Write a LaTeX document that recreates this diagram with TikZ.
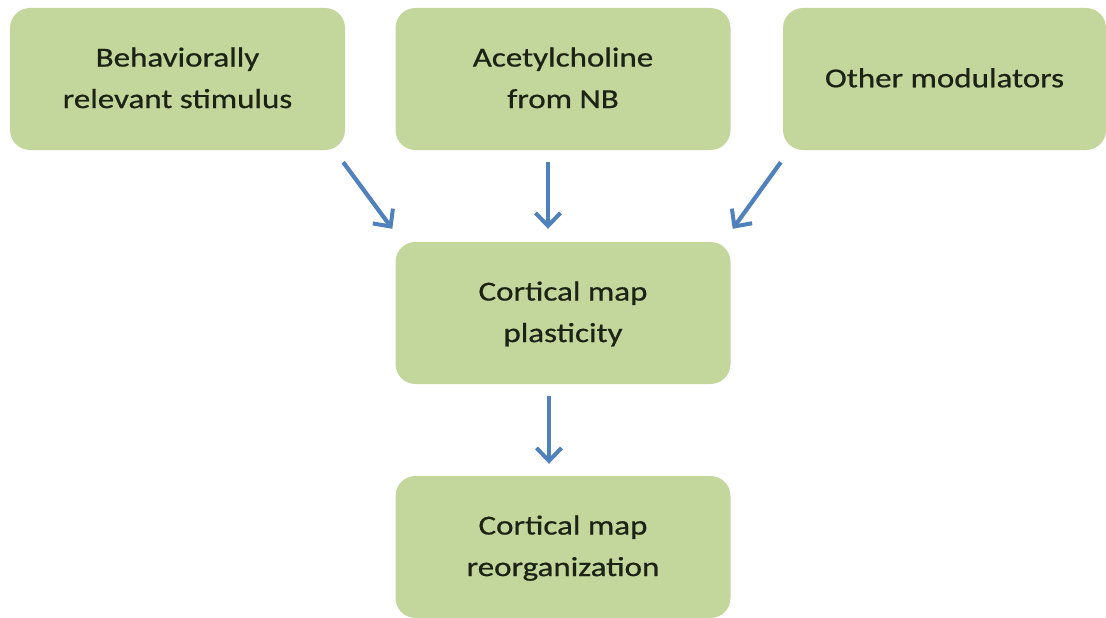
\documentclass[tikz,border=0pt]{standalone}
\usepackage{fontspec}
\setmainfont{Carlito}[FakeBold=0.6]
\usetikzlibrary{arrows.meta,calc}
\definecolor{boxgreen}{RGB}{195,214,155}
\definecolor{arrowblue}{RGB}{79,129,189}
\definecolor{txt}{RGB}{28,34,20}
\newcommand{\boxtext}[1]{\scalebox{1.2}[1]{\begin{tabular}{@{}c@{}}#1\end{tabular}}}
\tikzset{
  flowbox/.style={rectangle, rounded corners=20pt, fill=boxgreen, draw=none,
    minimum width=335pt, minimum height=142pt, inner sep=0pt,
    text=txt, font=\fontsize{27.5}{41.5}\selectfont},
  flowarrow/.style={draw=arrowblue, line width=4.2pt,
    -{Straight Barb[length=13pt,width=25pt,line width=4pt]}}
}
\begin{document}
\begin{tikzpicture}[x=1pt,y=-1pt]
\useasboundingbox (0,0) rectangle (1106,618);
\node[flowbox] (b1) at (177.5,79) {\boxtext{Behaviorally\\relevant stimulus}};
\node[flowbox] (b2) at (563,79) {\boxtext{Acetylcholine\\from NB}};
\node[flowbox, minimum width=323pt] (b3) at (944.5,79) {\boxtext{Other modulators}};
\node[flowbox] (b4) at (563,313) {\boxtext{Cortical map\\plasticity}};
\node[flowbox] (b5) at (563,547) {\boxtext{Cortical map\\reorganization}};
\draw[flowarrow] ($(b1.south east)+(-2,12)$) -- ($(b4.north west)+(-3,-13)$);
\draw[flowarrow] ($(b2.south)+(-15,12)$) -- ($(b4.north)+(-15,-13)$);
\draw[flowarrow] ($(b3.south west)+(-2,12)$) -- ($(b4.north east)+(2,-13)$);
\draw[flowarrow] ($(b4.south)+(-14,12)$) -- ($(b5.north)+(-14,-12)$);
\end{tikzpicture}
\end{document}
